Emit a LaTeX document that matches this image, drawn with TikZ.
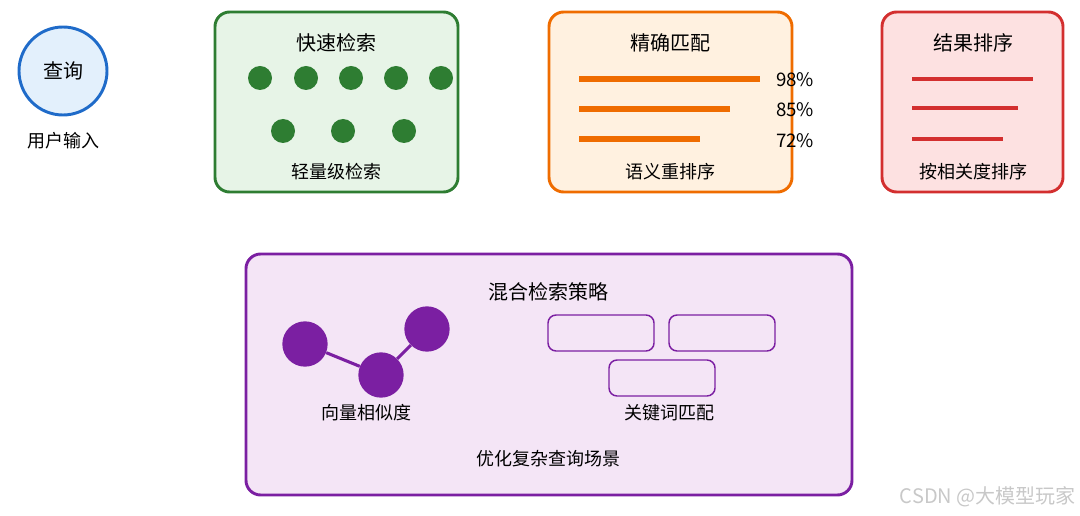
\documentclass[tikz,border=0pt]{standalone}
\usepackage{fontspec}
\setmainfont{Noto Sans CJK SC}
\definecolor{qblue}{HTML}{1F6BC9}
\definecolor{qbluef}{HTML}{E3F0FC}
\definecolor{ggreen}{HTML}{2E7D32}
\definecolor{ggreenf}{HTML}{E7F4E7}
\definecolor{oorange}{HTML}{EF6C00}
\definecolor{oorangef}{HTML}{FFF1E0}
\definecolor{rred}{HTML}{D32F2F}
\definecolor{rredf}{HTML}{FDE1E1}
\definecolor{ppurple}{HTML}{7B1FA2}
\definecolor{ppurplef}{HTML}{F4E5F6}
\definecolor{wmgray}{HTML}{C8C8C8}
\begin{document}
\begin{tikzpicture}[x=0.75pt,y=-0.75pt,
  panel/.style={rounded corners=11pt, line width=2.2pt},
  title/.style={font=\fontsize{15}{18}\selectfont, text=black},
  label/.style={font=\fontsize{13.5}{16}\selectfont, text=black},
  dot/.style={circle, fill=ggreen, inner sep=0pt, minimum size=18pt},
  pdot/.style={circle, fill=ppurple, inner sep=0pt, minimum size=34pt},
  kbox/.style={draw=ppurple, line width=1.1pt, rounded corners=6pt},
  bar/.style={line width=3.8pt}
]
\useasboundingbox (0,0) rectangle (1080,516);
% query circle
\node[circle, draw=qblue, fill=qbluef, line width=2.2pt, minimum size=66pt, inner sep=0pt,
      font=\fontsize{15}{18}\selectfont] (q) at (63,71) {查询};
\node[label] (qin) at (63,141) {用户输入};

% green panel
\draw[panel, draw=ggreen, fill=ggreenf] (215,12) rectangle (458,192);
\node[title] (gt) at (336,43) {快速检索};
\foreach \x [count=\i] in {260,306,351,396,441} \node[dot] (ga\i) at (\x,78) {};
\foreach \x [count=\i] in {283,343,404} \node[dot] (gb\i) at (\x,131) {};
\node[label] (gl) at (336,172) {轻量级检索};

% orange panel
\draw[panel, draw=oorange, fill=oorangef] (549,12) rectangle (792,192);
\node[title] (ot) at (670,43) {精确匹配};
\coordinate (oa1) at (579,79); \coordinate (oa2) at (760,79);
\coordinate (ob1) at (579,109); \coordinate (ob2) at (730,109);
\coordinate (oc1) at (579,139); \coordinate (oc2) at (700,139);
\draw[bar, draw=oorange] (oa1) -- (oa2);
\draw[bar, draw=oorange] (ob1) -- (ob2);
\draw[bar, draw=oorange] (oc1) -- (oc2);
\node[label, anchor=west, inner sep=0pt, font=\fontsize{14}{16}\selectfont] (p1) at (776,80) {98\%};
\node[label, anchor=west, inner sep=0pt, font=\fontsize{14}{16}\selectfont] (p2) at (776,110) {85\%};
\node[label, anchor=west, inner sep=0pt, font=\fontsize{14}{16}\selectfont] (p3) at (776,141) {72\%};
\node[label] (ol) at (670,172) {语义重排序};

% red panel
\draw[panel, draw=rred, fill=rredf] (882,12) rectangle (1063,192);
\node[title] (rt) at (973,43) {结果排序};
\coordinate (ra1) at (912,79); \coordinate (ra2) at (1033,79);
\coordinate (rb1) at (912,108); \coordinate (rb2) at (1018,108);
\coordinate (rc1) at (912,139); \coordinate (rc2) at (1003,139);
\draw[line width=3.6pt, draw=rred] (ra1) -- (ra2);
\draw[line width=3pt, draw=rred] (rb1) -- (rb2);
\draw[line width=2.3pt, draw=rred] (rc1) -- (rc2);
\node[label] (rl) at (973,172) {按相关度排序};

% purple panel
\draw[panel, draw=ppurple, fill=ppurplef] (246,254) rectangle (852,495);
\node[title] (pt) at (548,292) {混合检索策略};
\node[pdot] (v1) at (305,344) {};
\node[pdot] (v2) at (381,375) {};
\node[pdot] (v3) at (427,329) {};
\draw[ppurple, line width=2.3pt] (v1) -- (v2) -- (v3);
\node[label] (vl) at (366,413) {向量相似度};
\draw[kbox] (548,315) rectangle (654,351);
\draw[kbox] (669,315) rectangle (775,351);
\draw[kbox] (609,360) rectangle (715,396);
\node[label] (kl) at (669,413) {关键词匹配};
\node[label] (pl) at (548,459) {优化复杂查询场景};

% watermark
\node[anchor=east, inner sep=0pt, text=wmgray, font=\fontsize{15}{18}\selectfont] (wm) at (1076,497) {CSDN @大模型玩家};
\end{tikzpicture}
\end{document}
